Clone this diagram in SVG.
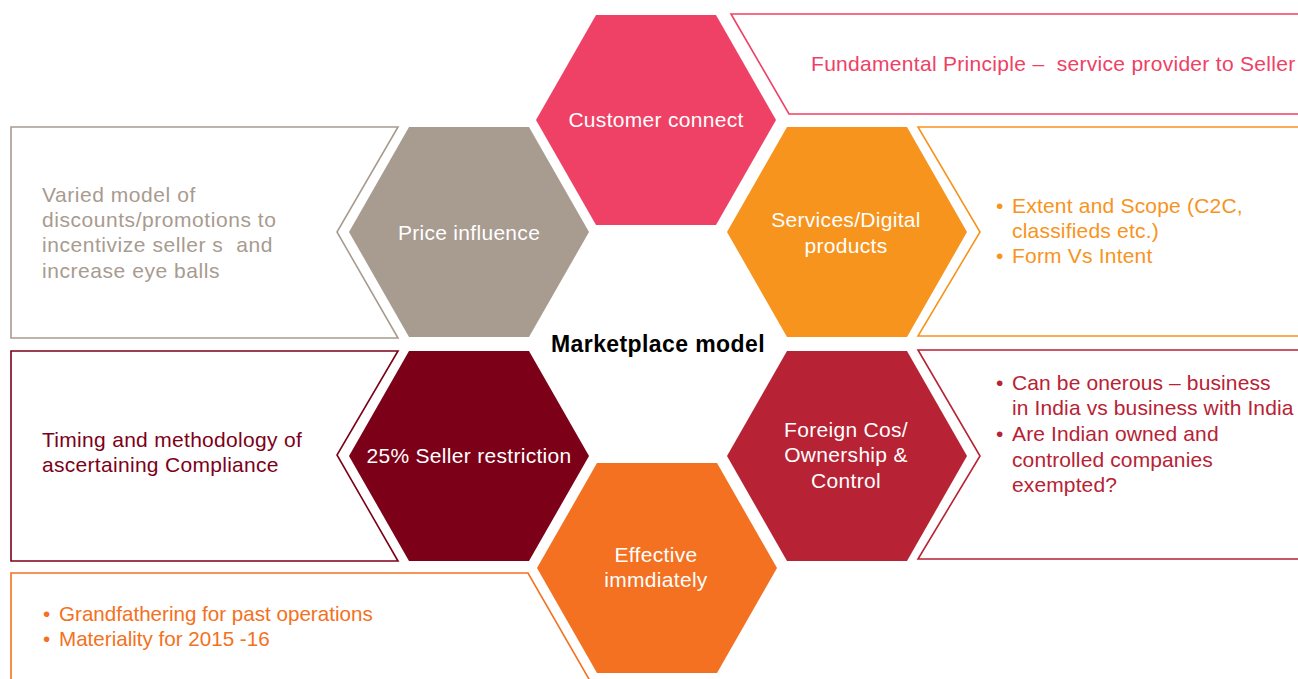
<svg xmlns="http://www.w3.org/2000/svg" width="1298" height="679" viewBox="0 0 1298 679">
<style>
  text { font-family: "Liberation Sans", Arial, sans-serif; font-size: 21px; letter-spacing: 0.3px; }
  .hx { fill: #ffffff; text-anchor: middle; }
  .co { fill: #ffffff; stroke-width: 1.6; }
  .title { font-weight: bold; font-size: 23px; letter-spacing: 0.4px; fill: #000000; text-anchor: middle; }
  #text-price text { letter-spacing: 0.55px; }
  #text-services text { letter-spacing: 0.2px; }
  #text-foreign text { letter-spacing: 0.12px; }
  #text-effective text { letter-spacing: 0; font-size: 20.6px; }
</style>
<rect width="1298" height="679" fill="#ffffff"/>
<g id="connectors">
  <polygon id="callout-customer" class="co" stroke="#EF4066" points="731,14 1310,14 1310,114 789,114"/>
  <polygon id="callout-price" class="co" stroke="#A89B90" points="11,127 398,127 337,232 398,338 11,338"/>
  <polygon id="callout-services" class="co" stroke="#F7941E" points="918,127 1310,127 1310,336 918,336 980,232"/>
  <polygon id="callout-seller" class="co" stroke="#7D0019" points="11,351 398,351 337,455 398,561 11,561"/>
  <polygon id="callout-foreign" class="co" stroke="#B72234" points="918,350 1310,350 1310,559 918,559 980,456"/>
  <polygon id="callout-effective" class="co" stroke="#F37121" points="11,700 11,573 528,573 601,700"/>
</g>
<g id="customer-connect">
  <polygon fill="#EF4066" points="596,15 716,15 776,120 716,225 596,225 536,120"/>
  <text class="hx" x="656" y="127">Customer connect</text>
</g>
<g id="price-influence">
  <polygon fill="#A89B90" points="409,127 529,127 589,232 529,337 409,337 349,232"/>
  <text class="hx" x="469" y="240">Price influence</text>
</g>
<g id="services-digital">
  <polygon fill="#F7941E" points="787,127 907,127 967,232 907,337 787,337 727,232"/>
  <text class="hx" x="846" y="227">Services/Digital</text>
  <text class="hx" x="846" y="253">products</text>
</g>
<g id="seller-restriction">
  <polygon fill="#7D0019" points="409,351 529,351 589,456 529,561 409,561 349,456"/>
  <text class="hx" x="469" y="463">25% Seller restriction</text>
</g>
<g id="foreign-cos">
  <polygon fill="#B72234" points="787,351 907,351 967,456 907,561 787,561 727,456"/>
  <text class="hx" x="846" y="437">Foreign Cos/</text>
  <text class="hx" x="846" y="462">Ownership &amp;</text>
  <text class="hx" x="846" y="488">Control</text>
</g>
<g id="effective">
  <polygon fill="#F37121" points="597,463 717,463 777,568 717,673 597,673 537,568"/>
  <text class="hx" x="656" y="562">Effective</text>
  <text class="hx" x="656" y="587">immdiately</text>
</g>
<g id="center-title">
  <text class="title" x="658" y="352">Marketplace model</text>
</g>
<g id="text-customer">
  <text x="811" y="71" fill="#EF4066" xml:space="preserve">Fundamental Principle –  service provider to Seller</text>
</g>
<g id="text-price" fill="#A89B90">
  <text x="42" y="202">Varied model of</text>
  <text x="42" y="227">discounts/promotions to</text>
  <text x="42" y="252" xml:space="preserve">incentivize seller s  and</text>
  <text x="42" y="278">increase eye balls</text>
</g>
<g id="text-services" fill="#F7941E">
  <text x="996" y="213">•</text>
  <text x="1012" y="213">Extent and Scope (C2C,</text>
  <text x="1012" y="238">classifieds etc.)</text>
  <text x="996" y="263">•</text>
  <text x="1012" y="263">Form Vs Intent</text>
</g>
<g id="text-seller" fill="#7D0019">
  <text x="42" y="447">Timing and methodology of</text>
  <text x="42" y="472">ascertaining Compliance</text>
</g>
<g id="text-foreign" fill="#B72234">
  <text x="996" y="390">•</text>
  <text x="1012" y="390">Can be onerous – business</text>
  <text x="1012" y="415">in India vs business with India</text>
  <text x="996" y="441">•</text>
  <text x="1012" y="441">Are Indian owned and</text>
  <text x="1012" y="467">controlled companies</text>
  <text x="1012" y="492">exempted?</text>
</g>
<g id="text-effective" fill="#F37121">
  <text x="43" y="621">•</text>
  <text x="59" y="621">Grandfathering for past operations</text>
  <text x="43" y="646">•</text>
  <text x="59" y="646">Materiality for 2015 -16</text>
</g>
</svg>
